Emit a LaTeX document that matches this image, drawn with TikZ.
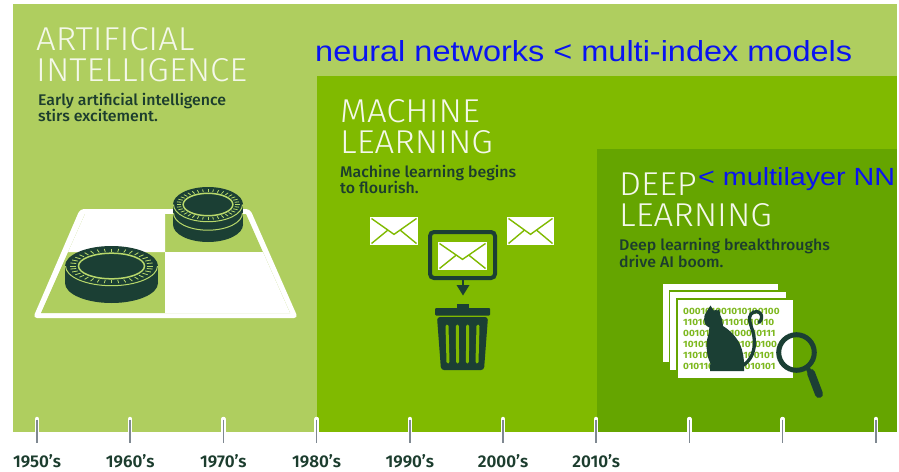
\documentclass[tikz,border=0pt]{standalone}
\usepackage{fontspec}
\setmainfont{Fira Sans}
\newfontfamily\lightfont{Fira Sans Light}
\newfontfamily\medfont{Fira Sans Medium}
\newfontfamily\yrfont{Fira Sans SemiBold}
\newfontfamily\notefont{Liberation Sans}

\definecolor{aigreen}{HTML}{AFCE5F}
\definecolor{mlgreen}{HTML}{80BA00}
\definecolor{dlgreen}{HTML}{65A500}
\definecolor{ink}{HTML}{1C3D2E}
\definecolor{icon}{HTML}{1B3F34}
\definecolor{ringgreen}{HTML}{B8D86B}
\definecolor{titlewhite}{HTML}{F4F8EA}
\definecolor{tickgray}{HTML}{7F8891}
\definecolor{annot}{HTML}{0A14F0}
\definecolor{bitgreen}{HTML}{7DB81E}

% named scale factors that bring a reference line to a given width and height
\newsavebox\measbox
\newcommand\setfit[4]{\sbox\measbox{#4}%
  \pgfmathsetmacro\tmpfx{#2/\the\wd\measbox}%
  \pgfmathsetmacro\tmpfy{#3/\the\ht\measbox}%
  \expandafter\let\csname fitx#1\endcsname\tmpfx
  \expandafter\let\csname fity#1\endcsname\tmpfy}
\newcommand\fitbox[2]{\scalebox{\csname fitx#1\endcsname}[\csname fity#1\endcsname]{#2}}

% a checker piece: centre x, top-face centre y, radii, thickness
\newcommand\drawchecker[5]{%
  \fill[icon] (#1,#2+#5) ellipse[x radius=#3, y radius=#4];
  \fill[icon] (#1-#3,#2) rectangle (#1+#3,#2+#5);
  \fill[icon] (#1,#2) ellipse[x radius=#3, y radius=#4];
  \draw[ringgreen, line width=1] (#1-#3+0.5,#2) arc[start angle=180, end angle=0, x radius=#3-0.5, y radius=#4-0.3];
  \draw[ringgreen, line width=1.5] (#1,#2) ellipse[x radius=0.71*#3, y radius=0.64*#4];
  \foreach \a in {0,10,...,350}
    \draw[ringgreen, line width=0.8] ({#1+0.77*#3*cos(\a)},{#2+0.72*#4*sin(\a)}) -- ({#1+0.9*#3*cos(\a)},{#2+0.87*#4*sin(\a)});
}

% an envelope between two corners
\newcommand\envelope[4]{%
  \fill[white] (#1,#2) rectangle (#3,#4);
  \draw[mlgreen, line width=1.4] (#1+1.5,#2+1.5) -- ({(#1+#3)/2},{#2+0.62*(#4-#2)}) -- (#3-1.5,#2+1.5);
  \draw[mlgreen, line width=1.4] (#1+1.5,#4-1.5) -- ({#1+0.37*(#3-#1)},{#2+0.47*(#4-#2)});
  \draw[mlgreen, line width=1.4] (#3-1.5,#4-1.5) -- ({#3-0.37*(#3-#1)},{#2+0.47*(#4-#2)});
}

\begin{document}
\setfit{title}{211}{23}{\lightfont INTELLIGENCE}%
\setfit{blurb}{188}{12.3}{\medfont Early artificial intelligence}%
\setfit{noteA}{537}{21}{\notefont neural networks < multi-index models}%
\setfit{noteB}{197}{18}{\notefont < multilayer NN}%
\setfit{bits}{105}{6.3}{\bfseries 000000000000000000}%
\setfit{year}{48}{13}{\yrfont 1950’s}%
\begin{tikzpicture}[x=1pt,y=-1pt,
  title/.style={anchor=base west, inner sep=0pt, text=titlewhite},
  blurb/.style={anchor=base west, inner sep=0pt, text=ink},
  note/.style={anchor=base west, inner sep=0pt, text=annot},
  year/.style={anchor=base, inner sep=0pt, text=ink},
  bits/.style={anchor=base west, inner sep=0pt, text=bitgreen}]

\useasboundingbox (0,0) rectangle (899,471);
\fill[white] (0,0) rectangle (899,471);

% era panels
\fill[aigreen] (13,4) rectangle (897,432);
\fill[mlgreen] (317,76) rectangle (897,432);
\fill[dlgreen] (597,149) rectangle (897,432);

% era titles
\node[title] (aiA) at (36,50) {\fitbox{title}{\lightfont ARTIFICIAL}};
\node[title] (aiB) at (36,81) {\fitbox{title}{\lightfont INTELLIGENCE}};
\node[title] (mlA) at (340,122) {\fitbox{title}{\lightfont MACHINE}};
\node[title] (mlB) at (340,153) {\fitbox{title}{\lightfont LEARNING}};
\node[title] (dlA) at (619,195) {\fitbox{title}{\lightfont DEEP}};
\node[title] (dlB) at (619,226) {\fitbox{title}{\lightfont LEARNING}};

% era descriptions
\node[blurb] (aiC) at (38,105) {\fitbox{blurb}{\medfont Early artificial intelligence}};
\node[blurb] (aiD) at (38,121) {\fitbox{blurb}{\medfont stirs excitement.}};
\node[blurb] (mlC) at (340,177) {\fitbox{blurb}{\medfont Machine learning begins}};
\node[blurb] (mlD) at (340,193) {\fitbox{blurb}{\medfont to flourish.}};
\node[blurb] (dlC) at (619,250) {\fitbox{blurb}{\medfont Deep learning breakthroughs}};
\node[blurb] (dlD) at (619,267) {\fitbox{blurb}{\medfont drive AI boom.}};

% annotations
\node[note] (noteA) at (315,61) {\fitbox{noteA}{\notefont neural networks < multi-index models}};
\node[note] (noteB) at (698,185) {\fitbox{noteB}{\notefont < multilayer NN}};

% checkers board
\fill[white, rounded corners=4] (80,209) -- (250,209) -- (298,318) -- (33,318) -- cycle;
\fill[aigreen] (85,214) -- (246,214) -- (290,313) -- (41,313) -- cycle;
\fill[white] (85,214) -- (165,214) -- (165,252) -- (68.1,252) -- cycle;
\fill[white] (165,252) -- (262.9,252) -- (290,313) -- (165,313) -- cycle;
\drawchecker{111.5}{266}{46.5}{20}{17}
\drawchecker{208}{204.5}{35}{17.5}{20}
\draw[ringgreen, line width=1] (173.5,213) arc[start angle=180, end angle=0, x radius=34.5, y radius=17.2];

% mail being discarded
\envelope{370}{217}{418}{245}
\envelope{507}{217}{554}{245}
\draw[icon, line width=4, rounded corners=4] (430,232) rectangle (495,278);
\envelope{438}{242}{487}{270}
\draw[icon, line width=2.6] (463,280) -- (463,287);
\fill[icon] (456.5,285) -- (469.5,285) -- (463,295.5) -- cycle;
\fill[icon] (457,304) rectangle (469,309);
\fill[icon, rounded corners=1] (435,308) rectangle (490,315.5);
\fill[icon, rounded corners=3] (437,317) -- (488,317) -- (484,370) -- (441,370) -- cycle;
\foreach \sx/\ex in {447/448, 457.3/457.6, 467.7/467.4, 478/477}
  \draw[mlgreen, line width=3, line cap=round] (\sx,326) -- (\ex,362);

% data sheets with a cat and a magnifier
\foreach \xa/\ya in {662/283, 669.5/291, 677/299}
  \fill[white, draw=dlgreen, line width=1.6] (\xa,\ya) rectangle (\xa+117,\ya+80);
\foreach \r/\s in {0/000101001010100100, 1/110101001101010110, 2/001010110100010111,
                   3/101010101001010100, 4/110101010110100101, 5/010110101001010101}
  \node[bits] (bits\r) at (683,{314+11*\r}) {\fitbox{bits}{\bfseries \s}};
% sitting cat
\fill[icon] (709.3,327.5) .. controls (706,326) and (704.5,324) .. (704.2,320)
  .. controls (704,316) and (705,313) .. (707,311)
  -- (710.5,305.5) -- (713.5,310.5)
  .. controls (715,310) and (716.5,310) .. (717.5,310.5)
  -- (719,309) -- (720.5,315.5)
  .. controls (722,318) and (722.5,322) .. (723,326)
  .. controls (731,331) and (739,339) .. (742,350)
  .. controls (744,357) and (744.5,365) .. (744,371)
  -- (710,371) -- (710.3,363)
  .. controls (706.5,356) and (705.5,344) .. (708,336)
  .. controls (709,333) and (709.5,330) .. (709.3,327.5) -- cycle;
\draw[icon, line width=3.3, line cap=round] (742,366)
  .. controls (751,361) and (756,350) .. (754,337)
  .. controls (753,329) and (749,323) .. (749.5,317.5)
  .. controls (750,312) and (757,310) .. (760,313)
  .. controls (762.5,315.5) and (762,320) .. (759,322.5);
% magnifier
\draw[icon, line width=5] (796.5,352.5) circle[radius=17.8];
\draw[icon, line width=4.5] (807,367) -- (811,374);
\draw[icon, line width=8, line cap=round] (811,373) -- (819,394);

% timeline ticks and decades
\foreach \i in {0,...,9} {
  \draw[white, line width=4.5, line cap=round] ({37+93.2*\i},419) -- ({37+93.2*\i},432);
  \draw[tickgray, line width=1.5] ({37+93.2*\i},419.5) -- ({37+93.2*\i},443);
}
\foreach \i/\yr in {0/1950,1/1960,2/1970,3/1980,4/1990,5/2000,6/2010}
  \node[year] (yr\yr) at ({37+93.2*\i},467) {\fitbox{year}{\yrfont \yr’s}};
\end{tikzpicture}
\end{document}
